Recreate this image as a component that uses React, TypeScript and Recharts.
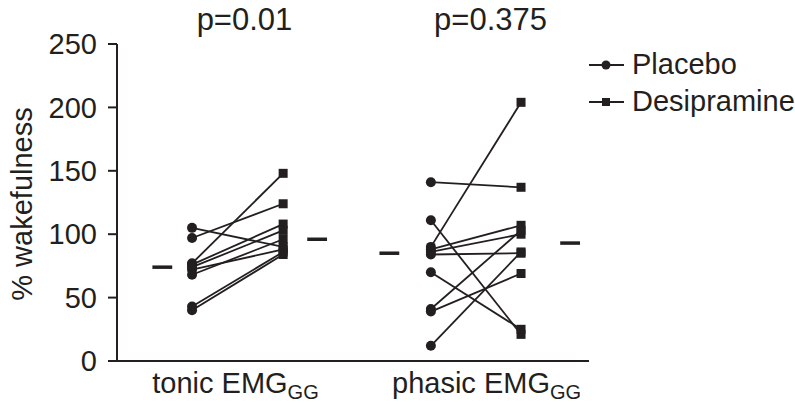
import React from 'react';
import { LineChart, Line, XAxis, YAxis } from 'recharts';

// values, one entry per animal (same order in both arrays)
const tonicPlacebo = [105, 97, 77, 76, 74, 72, 68, 43, 40];
const tonicDesipramine = [90, 124, 148, 108, 103, 88, 96, 86, 84];
const phasicPlacebo = [141, 111, 90, 88, 86, 84, 70, 41, 39, 12];
const phasicDesipramine = [137, 21, 204, 107, 100, 85, 25, 103, 69, 86];

const categories = ['tonic EMG', 'phasic EMG'];
const categorySub = 'GG';
const pLabels = ['p=0.01', 'p=0.375'];
const yTicks = [0, 50, 100, 150, 200, 250];
const seriesNames = ['Placebo', 'Desipramine'];

// layout slots on a 0..10 x scale
const slots = [
  { medL: 0.96, pla: 1.59, des: 3.52, medR: 4.24, label: 2.51, pShift: 9 },
  { medL: 5.77, pla: 6.65, des: 8.56, medR: 9.6, label: 7.83, pShift: 4 },
];

const INK = '#231f20';
const FONT = '"Liberation Sans", Arial, Helvetica, sans-serif';
const FS = 29;

const median = (arr: number[]) => {
  const s = [...arr].sort((a, b) => a - b);
  const m = Math.floor(s.length / 2);
  return s.length % 2 ? s[m] : (s[m - 1] + s[m]) / 2;
};

const groupData = [
  { placebo: tonicPlacebo, desip: tonicDesipramine },
  { placebo: phasicPlacebo, desip: phasicDesipramine },
];

const pairLines = groupData.flatMap((g, gi) =>
  g.placebo.map((p, i) => ({
    id: `g${gi}-${i}`,
    data: [
      { x: slots[gi].pla, y: p, kind: 'placebo' },
      { x: slots[gi].des, y: g.desip[i], kind: 'desip' },
    ],
  }))
);

const medianLines = groupData.flatMap((g, gi) => {
  const w = 0.21;
  const mp = median(g.placebo);
  const md = median(g.desip);
  return [
    { id: `mp${gi}`, data: [{ x: slots[gi].medL - w, y: mp }, { x: slots[gi].medL + w, y: mp }] },
    { id: `md${gi}`, data: [{ x: slots[gi].medR - w, y: md }, { x: slots[gi].medR + w, y: md }] },
  ];
});

const renderDot = (props: any) => {
  const { cx, cy, payload, index } = props;
  if (payload.kind === 'placebo') {
    return <circle key={`c${index}`} cx={cx} cy={cy} r={5} fill={INK} />;
  }
  return <rect key={`r${index}`} x={cx - 4.5} y={cy - 4.5} width={9} height={9} fill={INK} />;
};

// category label under the axis, p value above the plot
const BottomTick = (props: any) => {
  const { x, y, index } = props;
  return (
    <g>
      <text x={x} y={y + 24} textAnchor="middle" fontSize={FS} fill={INK} fontFamily={FONT}>
        <tspan>{categories[index]}</tspan>
        <tspan fontSize={20} dy={6}>{categorySub}</tspan>
      </text>
      <text x={x + slots[index].pShift} y={30} textAnchor="middle" fontSize={31} fill={INK} fontFamily={FONT}>
        {pLabels[index]}
      </text>
    </g>
  );
};

const YLabel = () => (
  <text
    x={0}
    y={0}
    transform="translate(32, 204) rotate(-90)"
    textAnchor="middle"
    fontSize={FS}
    fill={INK}
    fontFamily={FONT}
  >
    % wakefulness
  </text>
);

const LegendBox = () => (
  <div style={{ position: 'absolute', left: 589, top: 46, fontFamily: FONT, fontSize: FS, color: INK }}>
    {seriesNames.map((name, i) => (
      <div key={name} style={{ display: 'flex', alignItems: 'center', height: 37, lineHeight: '37px' }}>
        <svg width={43} height={14}>
          <line x1={0} y1={7} x2={35} y2={7} stroke={INK} strokeWidth={2} />
          {i === 0 ? (
            <circle cx={17} cy={7} r={4.5} fill={INK} />
          ) : (
            <rect x={13} y={3} width={8} height={8} fill={INK} />
          )}
        </svg>
        <span>{name}</span>
      </div>
    ))}
  </div>
);

export default function App() {
  return (
    <div style={{ position: 'absolute', left: 0, top: 0, width: 795, height: 405, background: '#fff' }}>
      <LineChart width={795} height={405} margin={{ top: 44, right: 206, bottom: 0, left: 0 }}>
        <XAxis
          type="number"
          dataKey="x"
          domain={[0, 10]}
          ticks={slots.map(s => s.label)}
          tick={<BottomTick />}
          tickLine={false}
          axisLine={{ stroke: INK, strokeWidth: 2 }}
          height={44}
          interval={0}
        />
        <YAxis
          type="number"
          domain={[0, 250]}
          ticks={yTicks}
          width={117}
          tickSize={9}
          tickMargin={11}
          axisLine={{ stroke: INK, strokeWidth: 2 }}
          tickLine={{ stroke: INK, strokeWidth: 2 }}
          tick={{ fontSize: FS, fill: INK, fontFamily: FONT }}
          label={<YLabel />}
          interval={0}
        />
        {pairLines.map(l => (
          <Line
            key={l.id}
            data={l.data}
            dataKey="y"
            type="linear"
            stroke={INK}
            strokeWidth={1.8}
            dot={renderDot}
            activeDot={false}
            isAnimationActive={false}
          />
        ))}
        {medianLines.map(l => (
          <Line
            key={l.id}
            data={l.data}
            dataKey="y"
            type="linear"
            stroke={INK}
            strokeWidth={3.5}
            dot={false}
            activeDot={false}
            isAnimationActive={false}
          />
        ))}
      </LineChart>
      <LegendBox />
    </div>
  );
}
